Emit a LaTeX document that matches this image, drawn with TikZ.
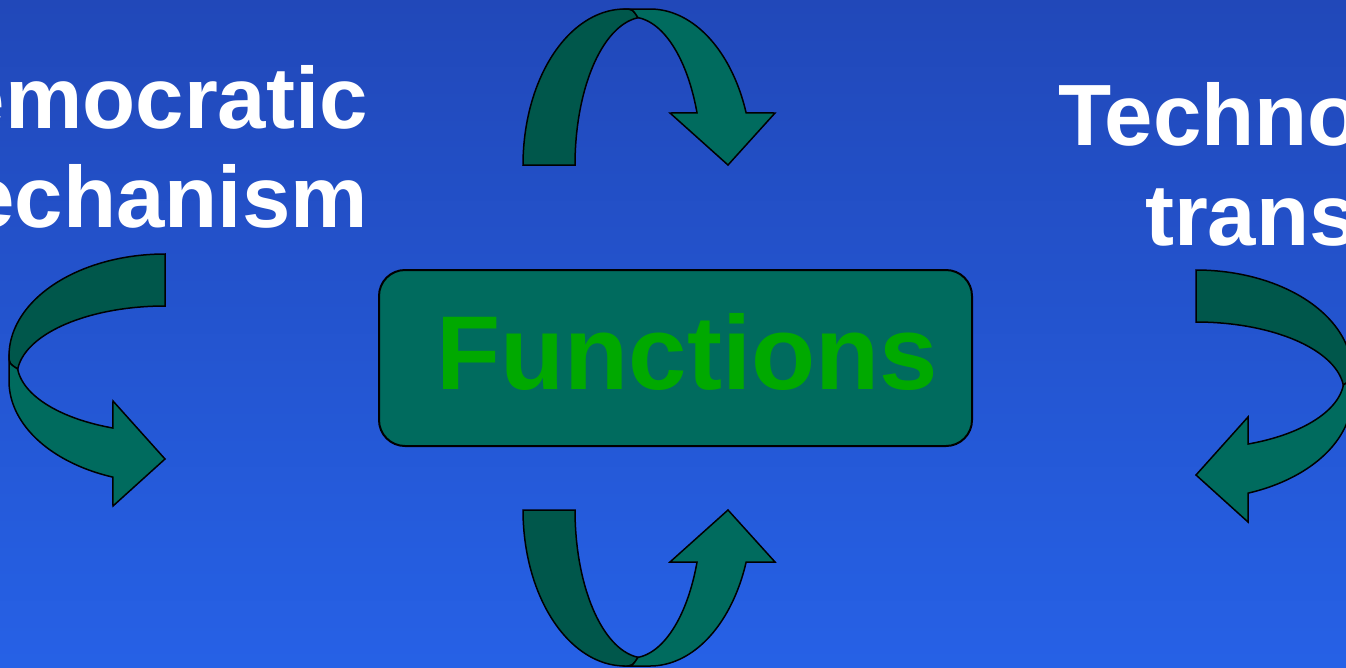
\documentclass[tikz,border=0pt]{standalone}
\usepackage{fontspec}
\setmainfont{Liberation Sans}
\definecolor{bgtop}{HTML}{2148B9}
\definecolor{bgbottom}{HTML}{2661E6}
\definecolor{banddark}{HTML}{00574B}
\definecolor{bandlight}{HTML}{006B5E}
\definecolor{labelgreen}{HTML}{00A900}

\tikzset{
  darkband/.style={fill=banddark, draw=black, line width=1.5pt, line join=miter},
  lightband/.style={fill=bandlight, draw=black, line width=1.5pt, line join=miter},
  sidelabel/.style={text=white, font=\fontsize{87}{99}\selectfont\bfseries, anchor=base, inner sep=0pt},
  funcbox/.style={fill=bandlight, draw=black, line width=2pt, rounded corners=26pt,
    minimum width=593pt, minimum height=176pt, inner sep=0pt},
  functext/.style={text=labelgreen, font=\fontsize{105}{120}\selectfont\bfseries, anchor=base, inner sep=0pt},
}

% A curved band arrow: rising back band (dark) and falling front band (light)
% with its head, drawn in its own local pixel frame (base at y=165, top at y=9).
\newcommand\bandarrow{%
  \filldraw[darkband] (523,165)
    -- plot[domain=180:270, samples=50] ({625+102*cos(\x)},{165+156*sin(\x)})
    -- (628,9) .. controls (633,10) .. (638.05,17.7)
    -- plot[domain=264.3:180, samples=50] ({645+70*cos(\x)},{165+148*sin(\x)})
    -- cycle;
  \filldraw[lightband] (628,9) -- (650,9)
    -- plot[domain=270:340.5, samples=50] ({650+102*cos(\x)},{165+156*sin(\x)})
    -- (775,113) -- (728,165) -- (670,113)
    -- plot[domain=339.4:275.3, samples=50] ({631.5+70*cos(\x)},{165+148*sin(\x)})
    .. controls (633,10) .. (628,9) -- cycle;
}

\begin{document}
\begin{tikzpicture}[x=1pt, y=-1pt]
\useasboundingbox (0,0) rectangle (1346,667);
\clip (0,0) rectangle (1346,667);
\fill[top color=bgtop, bottom color=bgbottom] (0,0) rectangle (1346,667);

% side labels
\node[sidelabel] (demo1) at (131,128) {Democratic};
\node[sidelabel] (demo2) at (131,227) {Mechanism};
\node[sidelabel] (tech1) at (1299,145) {Technology};
\node[sidelabel] (tech2) at (1307,245) {transfer};

% central box
\node[funcbox] (box) at (675.5,358) {};
\node[functext] (func) at (687,389) {Functions};

% the four curved arrows
\bandarrow
\begin{scope}[cm={1,0,0,-1,(0pt,-675pt)}]
  \bandarrow
\end{scope}
\begin{scope}[cm={0,-1,-1,0,(0pt,269pt)}]
  \bandarrow
\end{scope}
\begin{scope}[cm={0,-1,1,0,(1361pt,253pt)}]
  \bandarrow
\end{scope}
\end{tikzpicture}
\end{document}
